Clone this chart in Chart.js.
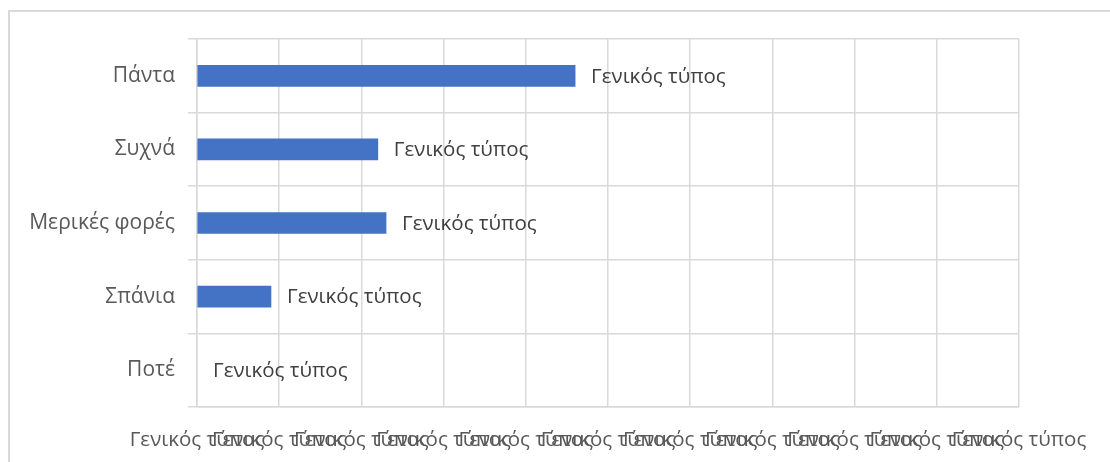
<!DOCTYPE html>
<html>
<head>
<meta charset="utf-8">
<script src="https://cdn.jsdelivr.net/npm/chart.js@4/dist/chart.umd.min.js"></script>
<style>
  html, body { margin: 0; padding: 0; background: #fff; overflow: hidden; }
  #frame {
    position: absolute; left: 8px; top: 10px; width: 1120px; height: 470px;
    border: 2px solid #d9d9d9; box-sizing: border-box;
  }
  #wrap { position: absolute; left: 0; top: 0; width: 1110px; height: 462px; }
</style>
</head>
<body>
<div id="frame"></div>
<div id="wrap"><canvas id="chart"></canvas></div>
<script>
// answers and their share (%)
var categories = ["Πάντα", "Συχνά", "Μερικές φορές", "Σπάνια", "Ποτέ"];
var shares = [46, 22, 23, 9, 0];
var valueLabel = "Γενικός τύπος";
var tickLabel = "Γενικός τύπος";

var textColor = "#595959";
var gridColor = "#d9d9d9";
var fontFamily = "'Open Sans', 'Noto Sans', sans-serif";

// writes the label text just after the end of each bar
var barLabels = {
  id: 'barLabels',
  afterDatasetsDraw: function (chart) {
    var ctx = chart.ctx;
    var meta = chart.getDatasetMeta(0);
    ctx.save();
    ctx.font = "20.5px " + fontFamily;
    ctx.fillStyle = "#404040";
    ctx.textAlign = "left";
    ctx.textBaseline = "middle";
    meta.data.forEach(function (bar) {
      ctx.fillText(valueLabel, bar.x + 16, bar.y + 1);
    });
    ctx.restore();
  }
};

new Chart(document.getElementById("chart"), {
  type: 'bar',
  data: {
    labels: categories,
    datasets: [{
      data: shares,
      backgroundColor: function (c) { return c.raw ? "#4472C4" : "rgba(0,0,0,0)"; },
      borderWidth: 0,
      barThickness: 21
    }]
  },
  options: {
    indexAxis: 'y',
    responsive: true,
    maintainAspectRatio: false,
    animation: false,
    layout: { padding: { top: 39, right: 91, left: 0, bottom: 0 } },
    plugins: {
      legend: { display: false },
      tooltip: { enabled: false }
    },
    scales: {
      x: {
        min: 0,
        max: 100,
        ticks: {
          stepSize: 10,
          autoSkip: false,
          maxRotation: 0,
          minRotation: 0,
          padding: 21,
          color: textColor,
          font: { family: fontFamily, size: 20.5 },
          callback: function () { return tickLabel; }
        },
        grid: { color: gridColor, lineWidth: 1.5, drawTicks: false },
        border: { color: gridColor, width: 1.5 },
        afterFit: function (scale) { scale.height = 55; }
      },
      y: {
        ticks: {
          padding: 13,
          color: textColor,
          font: { family: fontFamily, size: 21 }
        },
        grid: { color: gridColor, lineWidth: 1.5, tickLength: 9 },
        border: { color: gridColor, width: 1.5 },
        afterFit: function (scale) { scale.width = 197; }
      }
    }
  },
  plugins: [barLabels]
});
</script>
</body>
</html>
